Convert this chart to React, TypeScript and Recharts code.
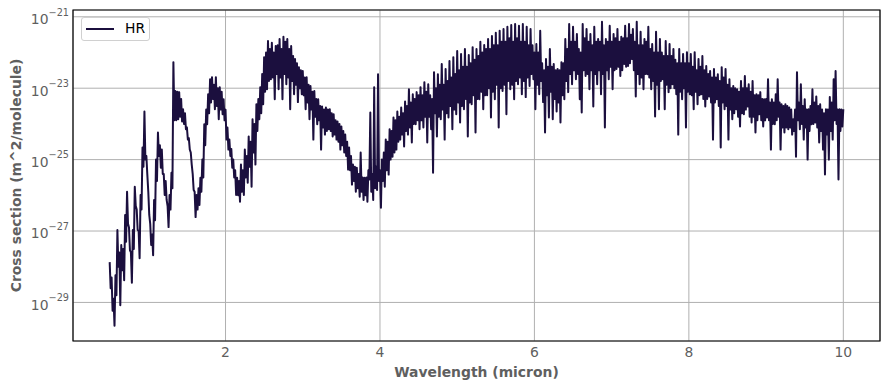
import React from 'react';
import { LineChart, Line, XAxis, YAxis, CartesianGrid, Legend, ReferenceArea } from 'recharts';

type Pt = [number, number]; // [wavelength (micron), log10 cross section (m^2/molecule)]

const spectrumNearIR: Pt[] = [
  [0.5,-27.87],[0.5125,-28.6],[0.525,-28.3],[0.5375,-29.23],[0.55,-28.9],[0.5625,-29.65],[0.575,-28.24],[0.5875,-28.8],
  [0.6,-26.97],[0.6125,-28.0],[0.625,-27.6],[0.6375,-29.08],[0.65,-27.39],[0.6625,-28.1],[0.675,-27.5],[0.6875,-28.38],
  [0.7,-26.55],[0.7125,-27.3],[0.725,-25.90],[0.7375,-26.8],[0.75,-26.9],[0.7625,-27.54],[0.775,-27.6],[0.7875,-28.45],
  [0.8,-26.97],[0.8125,-27.5],[0.825,-25.76],[0.8375,-26.3],[0.85,-26.4],[0.8625,-26.97],[0.875,-27.0],[0.8875,-27.76],
  [0.9,-25.99],[0.9125,-26.4],[0.925,-24.66],[0.9375,-25.2],[0.95,-23.65],[0.9625,-25.0],[0.975,-24.9],[0.9875,-25.42],
  [1.0,-25.9],[1.0125,-26.55],[1.025,-26.8],[1.0375,-27.39],[1.05,-27.1],[1.0625,-27.68],[1.075,-26.13],[1.0875,-26.7],
  [1.1,-25.0],[1.1125,-25.6],[1.125,-24.24],[1.1375,-24.9],[1.15,-24.6],[1.1625,-25.23],[1.175,-24.72],[1.1875,-25.4],
  [1.2,-25.4],[1.2125,-25.99],[1.225,-25.6],[1.2375,-26.13],[1.25,-26.3],[1.2625,-26.89],[1.275,-25.99],[1.2875,-26.4],
  [1.3,-25.37],[1.3125,-25.8],[1.325,-22.27],[1.3375,-23.9],[1.35,-23.08],[1.3625,-23.9],[1.375,-23.1],[1.3875,-23.87],
  [1.4,-23.11],[1.4125,-23.8],[1.425,-23.3],[1.4375,-23.93],[1.45,-23.59],[1.4625,-24.0],[1.475,-23.7],[1.4875,-24.15],
  [1.5,-24.1],[1.5125,-24.44],[1.525,-24.4],[1.5375,-24.72],[1.55,-24.8],[1.5625,-25.14],[1.575,-25.4],[1.5875,-25.85],
  [1.6,-25.9],[1.6125,-26.61],[1.625,-25.99],[1.6375,-26.4],[1.65,-25.8],[1.6625,-26.27],[1.675,-25.51],[1.6875,-25.9],
  [1.7,-25.0],[1.7125,-25.5],[1.725,-24.01],[1.7375,-24.6],[1.75,-23.6],[1.7625,-24.01],[1.775,-23.17],[1.7875,-23.7],
  [1.8,-22.75],[1.8125,-23.4],[1.825,-22.69],[1.8375,-23.3],[1.85,-22.9],[1.8625,-23.59],[1.875,-22.69],[1.8875,-23.5],
  [1.9,-23.0],[1.9125,-23.87],[1.925,-22.97],[1.9375,-23.6],[1.95,-23.1],[1.9625,-23.73],[1.975,-23.31],[1.9875,-23.9],
  [2.0,-23.6],[2.0125,-24.44],
];

const spectrumBand2: Pt[] = [
  [2.025,-24.1],[2.0375,-24.72],[2.05,-24.44],[2.0625,-24.9],[2.075,-24.7],[2.0875,-25.23],[2.1,-25.00],[2.1125,-25.5],
  [2.125,-25.3],[2.1375,-25.99],[2.15,-25.51],[2.1625,-26.0],[2.175,-25.6],[2.1875,-26.18],[2.2,-25.14],[2.2125,-25.9],
  [2.225,-25.3],[2.2375,-25.99],[2.25,-24.72],[2.2625,-25.5],[2.275,-24.9],[2.2875,-25.65],[2.3,-24.35],[2.3125,-25.2],
  [2.325,-24.5],[2.3375,-25.76],[2.35,-23.87],[2.3625,-24.8],[2.375,-24.0],[2.3875,-25.14],[2.4,-23.45],[2.4125,-24.2],
  [2.425,-23.3],[2.4375,-23.87],[2.45,-22.97],[2.4625,-23.7],[2.475,-22.6],[2.4875,-23.45],[2.5,-22.13],[2.5125,-23.1],
  [2.525,-22.0],[2.5375,-23.03],[2.55,-21.68],[2.5625,-22.8],[2.575,-21.9],[2.5875,-22.75],[2.6,-21.73],[2.6125,-22.7],
  [2.625,-22.0],[2.6375,-23.31],[2.65,-21.82],[2.6625,-22.6],[2.675,-21.8],[2.6875,-23.03],[2.7,-21.62],[2.7125,-22.7],
  [2.725,-21.9],[2.7375,-23.31],[2.75,-21.56],[2.7625,-22.6],[2.775,-21.7],[2.7875,-22.89],[2.8,-21.62],[2.8125,-22.7],
  [2.825,-21.9],[2.8375,-23.59],[2.85,-21.82],[2.8625,-22.8],[2.875,-22.1],[2.8875,-23.17],[2.9,-22.18],[2.9125,-22.9],
  [2.925,-22.3],[2.9375,-23.39],[2.95,-22.41],[2.9625,-23.0],[2.975,-22.5],[2.9875,-23.17],[3.0,-22.52],[3.0125,-23.2],
  [3.025,-22.7],[3.0375,-23.59],[3.05,-22.69],[3.0625,-23.4],[3.075,-22.9],[3.0875,-23.87],[3.1,-22.94],[3.1125,-23.6],
  [3.125,-23.1],[3.1375,-24.44],[3.15,-23.08],[3.1625,-23.8],[3.175,-23.3],[3.1875,-24.01],[3.2,-23.31],[3.2125,-23.9],
  [3.225,-23.5],[3.2375,-24.72],[3.25,-23.51],[3.2625,-24.1],[3.275,-23.6],[3.2875,-24.30],[3.3,-23.54],[3.3125,-24.2],
  [3.325,-23.6],[3.3375,-24.15],[3.35,-23.59],[3.3625,-24.2],[3.375,-23.7],[3.3875,-24.35],[3.4,-23.73],[3.4125,-24.3],
  [3.425,-23.9],[3.4375,-24.44],[3.45,-23.93],[3.4625,-24.5],[3.475,-24.0],[3.4875,-24.72],[3.5,-24.07],[3.5125,-24.6],
  [3.525,-24.2],[3.5375,-24.80],[3.55,-24.30],[3.5625,-24.9],[3.575,-24.5],[3.5875,-25.28],[3.6,-24.66],[3.6125,-25.3],
  [3.625,-24.9],[3.6375,-25.70],[3.65,-25.14],[3.6625,-25.6],[3.675,-25.2],[3.6875,-25.90],[3.7,-25.23],[3.7125,-25.8],
  [3.725,-25.4],[3.7375,-26.04],[3.75,-24.80],[3.7625,-25.9],[3.775,-25.5],[3.7875,-26.13],[3.8,-25.51],[3.8125,-26.0],
  [3.825,-25.5],[3.8375,-26.18],[3.85,-25.3],[3.8625,-25.56],[3.875,-23.68],[3.8875,-25.9],[3.9,-25.4],[3.9125,-26.13],
  [3.925,-22.97],[3.9375,-25.8],[3.95,-25.2],[3.9625,-25.85],[3.975,-22.61],[3.9875,-25.6],[4.0,-25.3],[4.0125,-26.35],
];

const spectrumBand3: Pt[] = [
  [4.025,-25.00],[4.0375,-25.6],[4.05,-24.8],[4.0625,-25.76],[4.075,-24.44],[4.0875,-25.3],[4.1,-24.5],[4.1125,-25.42],
  [4.125,-24.15],[4.1375,-25.0],[4.15,-24.2],[4.1625,-24.92],[4.175,-23.82],[4.1875,-24.8],[4.2,-23.9],[4.2125,-24.72],
  [4.225,-23.65],[4.2375,-24.5],[4.25,-23.8],[4.2625,-24.44],[4.275,-23.54],[4.2875,-24.3],[4.3,-23.7],[4.3125,-24.63],
  [4.325,-23.37],[4.3375,-24.2],[4.35,-23.5],[4.3625,-24.30],[4.375,-23.03],[4.3875,-24.1],[4.4,-23.4],[4.4125,-24.52],
  [4.425,-23.17],[4.4375,-24.0],[4.45,-23.3],[4.4625,-24.01],[4.475,-23.11],[4.4875,-23.9],[4.5,-23.2],[4.5125,-24.15],
  [4.525,-22.97],[4.5375,-23.9],[4.55,-23.2],[4.5625,-24.10],[4.575,-22.83],[4.5875,-23.8],[4.6,-23.1],[4.6125,-24.52],
  [4.625,-22.89],[4.6375,-23.8],[4.65,-23.2],[4.6625,-24.15],[4.675,-23.3],[4.6875,-25.37],[4.7,-22.55],[4.7125,-23.7],
  [4.725,-23.0],[4.7375,-24.35],[4.75,-22.61],[4.7625,-23.8],[4.775,-22.9],[4.7875,-23.87],[4.8,-22.32],[4.8125,-23.6],
  [4.825,-22.9],[4.8375,-24.44],[4.85,-22.46],[4.8625,-23.7],[4.875,-22.8],[4.8875,-23.82],[4.9,-22.24],[4.9125,-23.5],
  [4.925,-22.7],[4.9375,-24.15],[4.95,-22.13],[4.9625,-23.6],[4.975,-22.6],[4.9875,-23.73],[5.0,-21.96],[5.0125,-23.4],
  [5.025,-22.5],[5.0375,-23.96],[5.05,-22.04],[5.0625,-23.5],[5.075,-22.4],[5.0875,-23.59],[5.1,-21.90],[5.1125,-23.3],
  [5.125,-22.4],[5.1375,-24.35],[5.15,-22.07],[5.1625,-23.4],[5.175,-22.3],[5.1875,-23.45],[5.2,-21.85],[5.2125,-23.2],
  [5.225,-22.2],[5.2375,-24.24],[5.25,-21.90],[5.2625,-23.3],[5.275,-22.1],[5.2875,-23.31],[5.3,-21.70],[5.3125,-23.1],
  [5.325,-22.0],[5.3375,-23.59],[5.35,-21.79],[5.3625,-23.2],[5.375,-21.9],[5.3875,-23.20],[5.4,-21.62],[5.4125,-23.0],
  [5.425,-21.9],[5.4375,-23.82],[5.45,-21.54],[5.4625,-23.1],[5.475,-21.8],[5.4875,-23.31],[5.5,-21.45],[5.5125,-22.9],
  [5.525,-21.8],[5.5375,-24.10],[5.55,-21.39],[5.5625,-23.0],[5.575,-21.7],[5.5875,-23.08],[5.6,-21.34],[5.6125,-22.9],
  [5.625,-21.7],[5.6375,-23.73],[5.65,-21.28],[5.6625,-22.8],[5.675,-21.6],[5.6875,-23.03],[5.7,-21.23],[5.7125,-22.9],
  [5.725,-21.7],[5.7375,-23.31],[5.75,-21.20],[5.7625,-22.8],[5.775,-21.6],[5.7875,-22.89],[5.8,-21.25],[5.8125,-22.7],
  [5.825,-21.7],[5.8375,-23.17],[5.85,-21.20],[5.8625,-22.8],[5.875,-21.7],[5.8875,-23.25],[5.9,-21.28],[5.9125,-22.7],
  [5.925,-21.8],[5.9375,-22.94],[5.95,-21.34],[5.9625,-22.6],[5.975,-21.8],[5.9875,-22.75],[6.0,-22.0],[6.0125,-23.59],
];

const spectrumBand4: Pt[] = [
  [6.025,-21.76],[6.0375,-22.9],[6.05,-22.0],[6.0625,-23.17],[6.075,-21.39],[6.0875,-22.8],[6.1,-22.3],[6.1125,-23.39],
  [6.125,-22.5],[6.1375,-24.24],[6.15,-22.18],[6.1625,-23.2],[6.175,-22.4],[6.1875,-23.82],[6.2,-21.90],[6.2125,-23.1],
  [6.225,-22.4],[6.2375,-23.87],[6.25,-22.32],[6.2625,-23.3],[6.275,-22.5],[6.2875,-23.65],[6.3,-22.46],[6.3125,-23.4],
  [6.325,-22.5],[6.3375,-23.96],[6.35,-22.27],[6.3625,-23.2],[6.375,-22.3],[6.3875,-23.31],[6.4,-21.62],[6.4125,-22.8],
  [6.425,-21.9],[6.4375,-23.11],[6.45,-21.20],[6.4625,-22.6],[6.475,-21.7],[6.4875,-22.89],[6.5,-21.28],[6.5125,-22.5],
  [6.525,-21.7],[6.5375,-22.75],[6.55,-21.48],[6.5625,-22.6],[6.575,-21.9],[6.5875,-23.31],[6.6,-22.0],[6.6125,-23.68],
  [6.625,-21.20],[6.6375,-22.5],[6.65,-21.6],[6.6625,-22.66],[6.675,-21.34],[6.6875,-22.6],[6.7,-21.7],[6.7125,-23.03],
  [6.725,-21.48],[6.7375,-22.5],[6.75,-21.8],[6.7625,-23.51],[6.775,-21.28],[6.7875,-22.6],[6.8,-21.7],[6.8125,-22.89],
  [6.825,-21.62],[6.8375,-22.5],[6.85,-21.7],[6.8625,-23.17],[6.875,-21.14],[6.8875,-22.6],[6.9,-21.8],[6.9125,-24.10],
  [6.925,-21.62],[6.9375,-22.5],[6.95,-21.7],[6.9625,-22.75],[6.975,-21.25],[6.9875,-22.4],[7.0,-21.7],[7.0125,-23.03],
  [7.025,-21.48],[7.0375,-22.5],[7.05,-21.6],[7.0625,-22.46],[7.075,-21.34],[7.0875,-22.4],[7.1,-21.7],[7.1125,-22.66],
  [7.125,-21.56],[7.1375,-22.5],[7.15,-21.6],[7.1625,-22.32],[7.175,-21.25],[7.1875,-22.4],[7.2,-21.6],[7.2125,-22.38],
  [7.225,-21.20],[7.2375,-22.3],[7.25,-21.5],[7.2625,-22.18],[7.275,-21.34],[7.2875,-22.5],[7.3,-21.7],[7.3125,-23.23],
  [7.325,-21.14],[7.3375,-22.6],[7.35,-21.8],[7.3625,-22.89],[7.375,-21.42],[7.3875,-22.7],[7.4,-21.8],[7.4125,-23.03],
  [7.425,-21.62],[7.4375,-22.6],[7.45,-21.7],[7.4625,-22.61],[7.475,-21.28],[7.4875,-22.7],[7.5,-21.9],[7.5125,-23.03],
  [7.525,-21.76],[7.5375,-22.8],[7.55,-22.0],[7.5625,-23.79],[7.575,-21.42],[7.5875,-22.9],[7.6,-22.0],[7.6125,-23.59],
  [7.625,-21.62],[7.6375,-22.8],[7.65,-22.0],[7.6625,-22.75],[7.675,-22.1],[7.6875,-23.59],[7.7,-21.68],[7.7125,-22.9],
  [7.725,-22.1],[7.7375,-23.11],[7.75,-21.76],[7.7625,-23.0],[7.775,-22.1],[7.7875,-22.89],[7.8,-21.90],[7.8125,-23.0],
  [7.825,-22.2],[7.8375,-23.17],[7.85,-22.3],[7.8625,-24.30],[7.875,-21.90],[7.8875,-23.1],[7.9,-22.3],[7.9125,-23.31],
  [7.925,-22.04],[7.9375,-23.0],[7.95,-22.3],[7.9625,-24.10],[7.975,-21.99],[7.9875,-23.1],[8.0,-22.3],[8.0125,-23.17],
];

const spectrumBand5: Pt[] = [
  [8.025,-22.04],[8.0375,-23.2],[8.05,-22.4],[8.0625,-23.59],[8.075,-21.99],[8.0875,-23.1],[8.1,-22.5],[8.1125,-23.45],
  [8.125,-22.18],[8.1375,-23.2],[8.15,-22.4],[8.1625,-23.17],[8.175,-22.10],[8.1875,-23.3],[8.2,-22.5],[8.2125,-23.51],
  [8.225,-22.38],[8.2375,-23.3],[8.25,-22.6],[8.2625,-23.23],[8.275,-22.52],[8.2875,-23.4],[8.3,-22.7],[8.3125,-24.44],
  [8.325,-22.46],[8.3375,-23.4],[8.35,-22.7],[8.3625,-23.31],[8.375,-22.61],[8.3875,-23.5],[8.4,-22.8],[8.4125,-24.66],
  [8.425,-22.41],[8.4375,-23.4],[8.45,-22.7],[8.4625,-23.59],[8.475,-22.46],[8.4875,-23.5],[8.5,-22.9],[8.5125,-24.44],
  [8.525,-22.75],[8.5375,-23.6],[8.55,-23.0],[8.5625,-23.87],[8.575,-22.94],[8.5875,-23.7],[8.6,-23.0],[8.6125,-23.59],
  [8.625,-23.03],[8.6375,-23.8],[8.65,-23.1],[8.6625,-24.07],[8.675,-22.80],[8.6875,-23.7],[8.7,-23.0],[8.7125,-23.73],
  [8.725,-22.66],[8.7375,-23.6],[8.75,-23.0],[8.7625,-23.51],[8.775,-22.89],[8.7875,-23.8],[8.8,-23.1],[8.8125,-23.96],
  [8.825,-22.80],[8.8375,-23.8],[8.85,-23.2],[8.8625,-24.24],[8.875,-23.17],[8.8875,-23.9],[8.9,-23.2],[8.9125,-23.73],
  [8.925,-23.11],[8.9375,-23.9],[8.95,-23.3],[8.9625,-24.07],[8.975,-23.31],[8.9875,-23.9],[9.0,-23.3],[9.0125,-23.82],
  [9.025,-22.75],[9.0375,-23.9],[9.05,-23.4],[9.0625,-24.72],[9.075,-23.31],[9.0875,-24.0],[9.1,-23.4],[9.1125,-24.01],
  [9.125,-23.17],[9.1375,-23.9],[9.15,-22.75],[9.1625,-23.8],[9.175,-23.4],[9.1875,-24.72],[9.2,-23.45],[9.2125,-24.1],
  [9.225,-23.5],[9.2375,-24.24],[9.25,-23.45],[9.2625,-24.1],[9.275,-23.5],[9.2875,-24.15],[9.3,-23.54],[9.3125,-24.1],
  [9.325,-23.6],[9.3375,-24.30],[9.35,-23.87],[9.3625,-24.2],[9.375,-23.6],[9.3875,-24.92],[9.4,-22.55],[9.4125,-23.9],
  [9.425,-23.4],[9.4375,-24.15],[9.45,-22.89],[9.4625,-24.0],[9.475,-23.5],[9.4875,-24.44],[9.5,-23.31],[9.5125,-24.1],
  [9.525,-23.6],[9.5375,-25.00],[9.55,-23.59],[9.5625,-24.2],[9.575,-23.5],[9.5875,-24.01],[9.6,-23.03],[9.6125,-24.0],
  [9.625,-23.4],[9.6375,-23.96],[9.65,-23.23],[9.6625,-24.1],[9.675,-23.5],[9.6875,-24.52],[9.7,-23.45],[9.7125,-24.2],
  [9.725,-23.6],[9.7375,-24.72],[9.75,-23.7],[9.7625,-25.42],[9.775,-23.59],[9.7875,-24.3],[9.8,-23.6],[9.8125,-25.00],
  [9.825,-23.25],[9.8375,-24.2],[9.85,-23.4],[9.8625,-24.44],[9.875,-22.75],[9.8875,-23.9],[9.9,-22.52],[9.9125,-24.0],
  [9.925,-23.6],[9.9375,-25.56],[9.95,-23.59],[9.9625,-24.2],[9.975,-23.6],[9.9875,-24.07],[10.0,-23.59],
];

const xTicks = [2, 4, 6, 8, 10];
const yTickExponents = [-29, -27, -25, -23, -21];
const xDomain: [number, number] = [0.025, 10.475];
const yDomainExponents = [-30.08, -20.81];

const seriesName = 'HR';
const xLabelText = 'Wavelength (micron)';
const yLabelText = 'Cross section (m^2/molecule)';

const spectrum = [...spectrumNearIR, ...spectrumBand2, ...spectrumBand3, ...spectrumBand4, ...spectrumBand5].map(
  ([w, lg]) => ({ wavelength: w, crossSection: Math.pow(10, lg) })
);
const yTicks = yTickExponents.map((e) => Math.pow(10, e));
const yDomain: [number, number] = [Math.pow(10, yDomainExponents[0]), Math.pow(10, yDomainExponents[1])];

const FONT = 'DejaVu Sans, sans-serif';
const TEXT_GREY = '#5f5f5f';
const LINE_COLOR = '#1b0f3e';

const XTick = (props: any) => {
  const { x, y, payload } = props;
  return (
    <text x={x} y={y + 16} textAnchor="middle" fill={TEXT_GREY} fontSize={13.9} fontFamily={FONT}>
      {payload.value}
    </text>
  );
};

const YTick = (props: any) => {
  const { x, y, payload } = props;
  const exp = Math.round(Math.log10(payload.value));
  return (
    <text x={x} y={y} textAnchor="end" fill={TEXT_GREY} fontFamily={FONT}>
      <tspan fontSize={13.9} dy={7.4}>10</tspan>
      <tspan fontSize={9.7} dy={-8.6}>{'\u2212' + Math.abs(exp)}</tspan>
    </text>
  );
};

const XLabel = (props: any) => {
  const vb = props.viewBox || { x: 65, y: 333, width: 807, height: 48 };
  return (
    <text x={vb.x + vb.width / 2} y={vb.y + 36} textAnchor="middle" fill={TEXT_GREY} fontSize={13.9} fontWeight="bold" fontFamily={FONT}>
      {xLabelText}
    </text>
  );
};

const YLabel = (props: any) => {
  const vb = props.viewBox || { x: 0, y: 2, width: 65, height: 331 };
  const cx = vb.x + 13;
  const cy = vb.y + vb.height / 2;
  return (
    <text x={cx} y={cy} transform={`rotate(-90, ${cx}, ${cy})`} textAnchor="middle" fill={TEXT_GREY} fontSize={13.9} fontWeight="bold" fontFamily={FONT}>
      {yLabelText}
    </text>
  );
};

const LegendBox = () => (
  <div
    style={{
      width: 67,
      height: 22,
      border: '1px solid #d0d0d0',
      borderRadius: 3,
      background: 'rgba(255,255,255,0.85)',
      position: 'relative',
      fontFamily: FONT,
      fontSize: 13.9,
      color: '#000',
    }}
  >
    <svg width={32} height={22} style={{ position: 'absolute', left: 0, top: 0 }}>
      <line x1={4} y1={11} x2={33} y2={11} stroke={LINE_COLOR} strokeWidth={2} />
    </svg>
    <span style={{ position: 'absolute', left: 43, top: 2, lineHeight: '17px' }}>{seriesName}</span>
  </div>
);

export default function App() {
  return (
    <LineChart width={881} height={381} data={spectrum} margin={{ top: 2, right: 9, bottom: 0, left: 0 }}>
      <CartesianGrid stroke="#b0b0b0" strokeWidth={1} />
      <XAxis
        dataKey="wavelength"
        type="number"
        domain={xDomain}
        ticks={xTicks}
        allowDataOverflow
        height={48}
        tickLine={false}
        axisLine={false}
        tickSize={0}
        tickMargin={0}
        tick={<XTick />}
        label={<XLabel />}
      />
      <YAxis
        type="number"
        scale="log"
        domain={yDomain}
        ticks={yTicks}
        allowDataOverflow
        width={65}
        tickLine={false}
        axisLine={false}
        tickSize={0}
        tickMargin={4}
        tick={<YTick />}
        label={<YLabel />}
      />
      <Legend
        layout="vertical"
        align="center"
        verticalAlign="middle"
        wrapperStyle={{ left: 73, top: 9, width: 'auto', height: 'auto' }}
        content={<LegendBox />}
      />
      <Line
        type="linear"
        dataKey="crossSection"
        name={seriesName}
        stroke={LINE_COLOR}
        strokeWidth={2}
        strokeLinejoin="round"
        dot={false}
        activeDot={false}
        isAnimationActive={false}
      />
      <ReferenceArea
        x1={xDomain[0]}
        x2={xDomain[1]}
        y1={yDomain[0]}
        y2={yDomain[1]}
        fill="none"
        stroke="#000"
        strokeWidth={1.2}
        ifOverflow="visible"
      />
    </LineChart>
  );
}
